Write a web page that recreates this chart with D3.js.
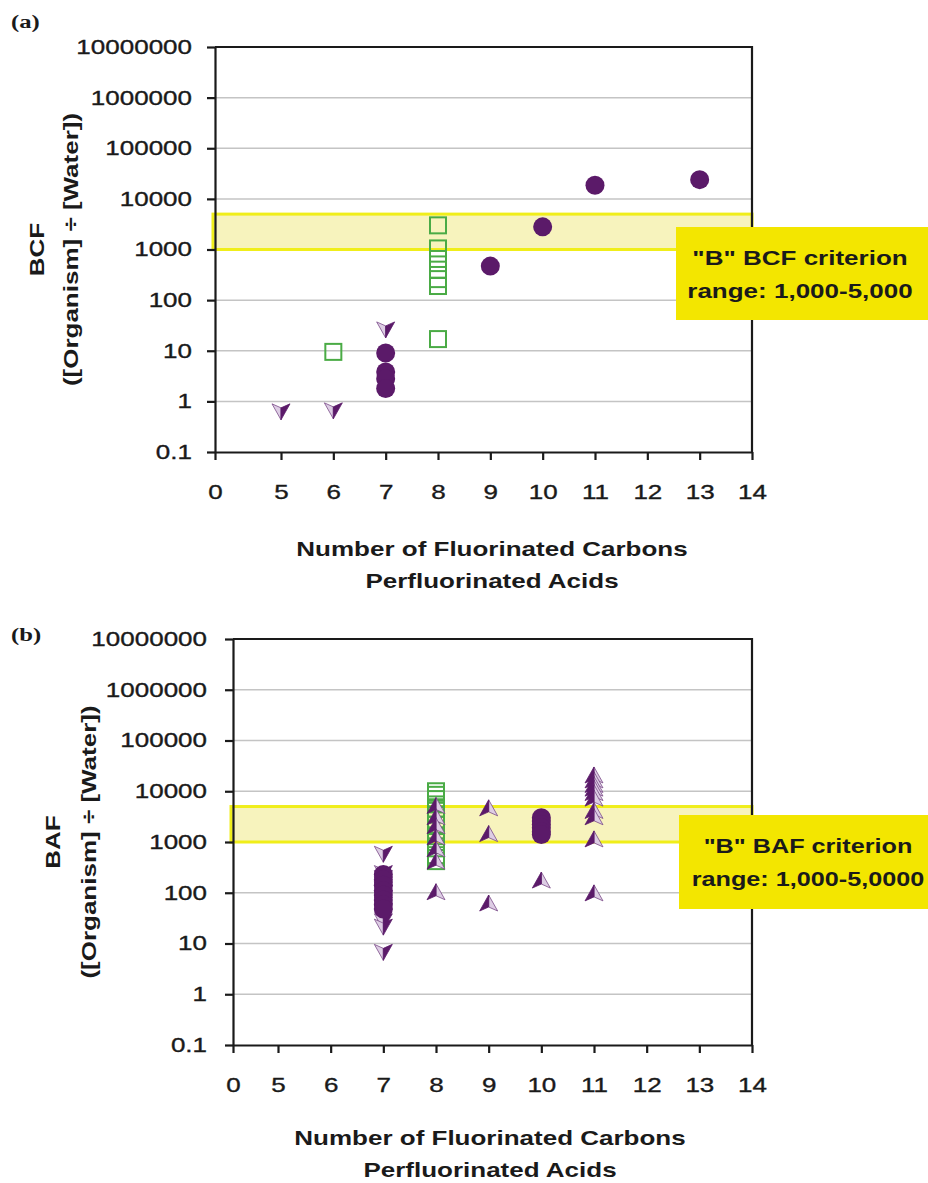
<!DOCTYPE html>
<html lang="en">
<head>
<meta charset="UTF-8">
<title>BCF and BAF of perfluorinated acids</title>
<script src="https://cdnjs.cloudflare.com/ajax/libs/d3/7.8.5/d3.min.js"></script>
<style>
  body { margin: 0; background: #fff; }
  svg { display: block; font-family: "Liberation Sans", Arial, sans-serif; }
</style>
</head>
<body>
<svg id="chart" width="928" height="1183"></svg>
<script>
// shared tick values
const xTicks = [0, 5, 6, 7, 8, 9, 10, 11, 12, 13, 14];
const yTicks = [0.1, 1, 10, 100, 1000, 10000, 100000, 1000000, 10000000];
const bRange = [1000, 5000];   // "B" criterion band

// panel (a) - BCF
const bcfCircleX = [7, 7, 7, 7, 9, 10, 11, 13];
const bcfCircleY = [9, 3.8, 2.8, 1.8, 470, 2800, 18600, 24000];
const bcfSquareX = [6, 8, 8, 8, 8, 8, 8, 8];
const bcfSquareY = [9.5, 3000, 1050, 650, 400, 260, 190, 17];
const bcfDownX = [5, 6, 7];
const bcfDownY = [0.65, 0.68, 27];
const bcfUpX = [];
const bcfUpY = [];

// panel (b) - BAF
const bafCircleX = [7, 7, 7, 7, 7, 7, 7, 7, 10, 10, 10, 10, 10, 10];
const bafCircleY = [230, 180, 140, 110, 90, 72, 58, 48, 3000, 2600, 2200, 1900, 1600, 1400];
const bafSquareX = [8, 8, 8, 8, 8, 8, 8, 8, 8, 8, 8, 8, 8, 8];
const bafSquareY = [10000, 8500, 7000, 5500, 4500, 3500, 2800, 2200, 1700, 1300, 1000, 750, 550, 420];
const bafDownX = [7, 7, 7, 7, 7, 7, 7, 7, 7, 7, 7, 7, 7];
const bafDownY = [600, 250, 200, 150, 120, 100, 80, 60, 45, 35, 28, 22, 7];
const bafUpX = [8, 8, 8, 8, 8, 8, 8, 9, 9, 9, 10, 11, 11, 11, 11, 11, 11, 11, 11, 11, 11];
const bafUpY = [5000, 3000, 2000, 1200, 700, 400, 100, 4500, 1400, 60, 170,
                20000, 16000, 13000, 11000, 9000, 7000, 4000, 3000, 1100, 95];

const SX = 1.3;          // the original lettering is wide
const ink = "#1a1a1a";
const purple = "#5b1a69";
const svg = d3.select("#chart");

function stretchText(g, str, x, y, size, opts = {}) {
    const rot = opts.rotate ? ` rotate(${opts.rotate})` : "";
    return g.append("text")
        .attr("transform", `translate(${x},${y})${rot} scale(${SX},1)`)
        .attr("text-anchor", opts.anchor || "middle")
        .attr("font-size", size)
        .attr("font-weight", opts.weight || "bold")
        .attr("font-family", opts.family || null)
        .attr("fill", ink)
        .text(str);
}

function drawPanel(p) {
    const x = d3.scaleLinear().domain([0, 5, 14]).range([p.left, p.left5, p.right]);
    const y = d3.scaleLog().domain([0.1, 1e7]).range([p.bottom, p.top]);
    const g = svg.append("g");

    // gridlines
    g.selectAll(".grid").data(yTicks.slice(1, -1)).join("line")
        .attr("x1", p.left).attr("x2", p.right)
        .attr("y1", d => y(d)).attr("y2", d => y(d))
        .attr("stroke", "#c4c4c4").attr("stroke-width", 1.5);

    // criterion band
    g.append("rect")
        .attr("x", p.left - 2).attr("width", p.right - p.left + 2)
        .attr("y", y(bRange[1])).attr("height", y(bRange[0]) - y(bRange[1]))
        .attr("fill", "#f7f3bd").attr("stroke", "#f0ee1a").attr("stroke-width", 3);

    // open squares
    g.selectAll(".sq").data(d3.zip(p.squareX, p.squareY)).join("rect")
        .attr("x", d => x(d[0]) - 8).attr("y", d => y(d[1]) - 8)
        .attr("width", 16).attr("height", 16)
        .attr("fill", "none").attr("stroke", "#4aab45").attr("stroke-width", 2);

    // arrowhead markers, dark half + light half
    const arrows = d3.zip(p.downX, p.downY).map(d => [d[0], d[1], 180])
        .concat(d3.zip(p.upX, p.upY).map(d => [d[0], d[1], 0]));
    const ag = g.selectAll(".arr").data(arrows).join("g")
        .attr("transform", d => `translate(${x(d[0])},${y(d[1])}) rotate(${d[2]})`);
    ag.append("path").attr("d", "M0,-9L9,7L0,3Z")
        .attr("fill", "#ddcde4").attr("stroke", "#7a4a88").attr("stroke-width", 0.8);
    ag.append("path").attr("d", "M0,-9L-9,7L0,3Z")
        .attr("fill", purple).attr("stroke", purple).attr("stroke-width", 0.8);

    // filled circles
    g.selectAll(".dot").data(d3.zip(p.circleX, p.circleY)).join("circle")
        .attr("cx", d => x(d[0])).attr("cy", d => y(d[1]))
        .attr("r", 9.5).attr("fill", purple);

    // axes
    const yAxis = d3.axisLeft(y).tickValues(yTicks).tickFormat(d => String(d))
        .tickSize(8).tickSizeOuter(0);
    const gy = g.append("g").attr("transform", `translate(${p.left},0)`).call(yAxis);
    gy.selectAll("text")
        .attr("x", -p.yPad / SX).attr("transform", `scale(${SX},1)`)
        .attr("font-size", 20).attr("fill", ink)
        .attr("stroke", ink).attr("stroke-width", 0.35)
        .attr("font-family", "Liberation Sans, Arial, sans-serif");

    const xAxis = d3.axisBottom(x).tickValues(xTicks).tickFormat(d3.format("d"))
        .tickSize(8).tickPadding(25).tickSizeOuter(0);
    const gx = g.append("g").attr("transform", `translate(0,${p.bottom})`).call(xAxis);
    gx.selectAll("text")
        .attr("transform", `scale(${SX},1)`)
        .attr("font-size", 20).attr("fill", ink)
        .attr("stroke", ink).attr("stroke-width", 0.35)
        .attr("font-family", "Liberation Sans, Arial, sans-serif");

    [gx, gy].forEach(a => {
        a.selectAll("path, line").attr("stroke", ink).attr("stroke-width", 2.2);
    });

    // top and right frame
    g.append("path")
        .attr("d", `M${p.left},${p.top}H${p.right}V${p.bottom}`)
        .attr("fill", "none").attr("stroke", ink).attr("stroke-width", 2.2);

    // criterion note
    g.append("rect")
        .attr("x", p.boxX).attr("y", p.boxY)
        .attr("width", 940 - p.boxX).attr("height", p.boxH)
        .attr("fill", "#f3e600");
    stretchText(g, p.note[0], p.noteX, p.boxY + 38, p.noteSize);
    stretchText(g, p.note[1], p.noteX, p.boxY + 71, p.noteSize);

    // axis titles
    stretchText(g, "Number of Fluorinated Carbons", p.titleX, p.bottom + p.titleDy, 20);
    stretchText(g, "Perfluorinated Acids", p.titleX, p.bottom + p.titleDy + 32, 20);
    const cy = (p.top + p.bottom) / 2;
    stretchText(g, p.yName, p.yNameX, cy, 20, { rotate: -90 });
    stretchText(g, "([Organism] \u00f7 [Water])", p.yUnitX, cy, 20, { rotate: -90 });

    // panel tag
    stretchText(g, p.tag, p.tagX, p.tagY, 19, { anchor: "start", family: "Liberation Serif, Times New Roman, serif" });
}

drawPanel({
    top: 47, bottom: 452, left: 215, left5: 281, right: 752, yPad: 23,
    circleX: bcfCircleX, circleY: bcfCircleY,
    squareX: bcfSquareX, squareY: bcfSquareY,
    downX: bcfDownX, downY: bcfDownY, upX: bcfUpX, upY: bcfUpY,
    boxX: 676, boxY: 227, boxH: 93, noteX: 800, noteSize: 20,
    note: ["\"B\" BCF criterion", "range: 1,000-5,000"],
    titleX: 492, titleDy: 104, yName: "BCF", yNameX: 44, yUnitX: 78,
    tag: "(a)", tagX: 11, tagY: 28
});

drawPanel({
    top: 639, bottom: 1045, left: 233, left5: 278, right: 752, yPad: 26,
    circleX: bafCircleX, circleY: bafCircleY,
    squareX: bafSquareX, squareY: bafSquareY,
    downX: bafDownX, downY: bafDownY, upX: bafUpX, upY: bafUpY,
    boxX: 679, boxY: 815, boxH: 94, noteX: 808, noteSize: 19.4,
    note: ["\"B\" BAF criterion", "range: 1,000-5,0000"],
    titleX: 490, titleDy: 100, yName: "BAF", yNameX: 60, yUnitX: 96,
    tag: "(b)", tagX: 11, tagY: 641
});
</script>
</body>
</html>
